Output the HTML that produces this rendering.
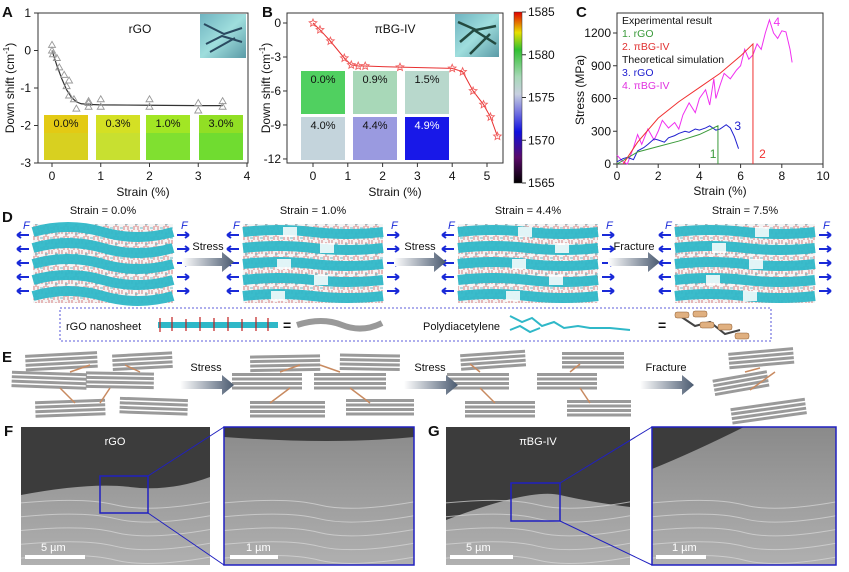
<!DOCTYPE html>
<html><head><meta charset="utf-8"><style>
html,body{margin:0;padding:0;background:#fff}
svg{display:block;font-family:"Liberation Sans",sans-serif}
</style></head><body>
<svg id="fig" width="849" height="572" viewBox="0 0 849 572" xmlns="http://www.w3.org/2000/svg">
<defs>
<linearGradient id="cbar" x1="0" y1="1" x2="0" y2="0">
<stop offset="0" stop-color="#000"/><stop offset="0.15" stop-color="#5a0a6a"/><stop offset="0.3" stop-color="#1010e0"/><stop offset="0.42" stop-color="#7a7ae0"/><stop offset="0.52" stop-color="#c8d0e0"/><stop offset="0.62" stop-color="#a8d8b8"/><stop offset="0.78" stop-color="#30c030"/><stop offset="0.88" stop-color="#e8e000"/><stop offset="1" stop-color="#e00000"/>
</linearGradient>
<linearGradient id="arr" x1="0" x2="1"><stop offset="0" stop-color="#fff"/><stop offset="1" stop-color="#4a5a70"/></linearGradient>
<linearGradient id="sem" x1="0" y1="0" x2="0" y2="1"><stop offset="0" stop-color="#8a8a8a"/><stop offset="1" stop-color="#b0b0b0"/></linearGradient>
<linearGradient id="ins" x1="0" y1="0" x2="1" y2="1"><stop offset="0" stop-color="#6fb3c0"/><stop offset="0.5" stop-color="#9fdedd"/><stop offset="1" stop-color="#5a9aa6"/></linearGradient>
<pattern id="md" width="10" height="10" patternUnits="userSpaceOnUse"><rect width="10" height="10" fill="#f4f4f4"/><path d="M2 0v4M6 2v5M9 0v4M4 6v4M8 6v4" stroke="#d06060" stroke-width="0.8"/><path d="M0 8h3M5 4h3" stroke="#40b0c0" stroke-width="0.8"/></pattern>
</defs>
<g id="pA"></g>
<g id="pB"></g>
<g id="pC"></g>
<g id="pD"></g>
<g id="pE"></g>
<g id="pFG"></g>
</svg>
<script>
// ---- Panel A data
const aStrain=[0,0,0.02,0.1,0.15,0.25,0.3,0.35,0.35,0.45,0.5,0.75,0.75,0.75,1,1,2,2,3,3,3.5,3.5];
const aShift=[0.15,0,-0.1,-0.2,-0.45,-0.65,-0.95,-0.8,-1.2,-1.3,-1.55,-1.35,-1.4,-1.5,-1.3,-1.5,-1.3,-1.5,-1.4,-1.6,-1.35,-1.5];
const aFitX=[0,0.1,0.2,0.3,0.4,0.5,0.6,0.8,1,2,3,3.5];
const aFitY=[0,-0.4,-0.75,-1.05,-1.25,-1.37,-1.42,-1.44,-1.45,-1.46,-1.47,-1.47];
const aXTicks=[0,1,2,3,4];
const aYTicks=[1,0,-1,-2,-3];
const aTiles=["0.0%","0.3%","1.0%","3.0%"];
// ---- Panel B data
const bStrain=[0,0.2,0.5,0.9,1.1,1.3,1.5,2.5,4,4.3,4.6,4.9,5.1,5.3];
const bShift=[0,-0.6,-1.6,-3.1,-3.7,-3.8,-3.8,-3.9,-4.0,-4.3,-6.0,-7.2,-8.3,-10.0];
const bXTicks=[0,1,2,3,4,5];
const bYTicks=[0,-3,-6,-9,-12];
const bTiles=["0.0%","0.9%","1.5%","4.0%","4.4%","4.9%"];
const cbTicks=[1585,1580,1575,1570,1565];
// ---- Panel C data
const cXTicks=[0,2,4,6,8,10];
const cYTicks=[0,300,600,900,1200];
const gX=[0,1,2,3,4,4.9,4.9];
const gY=[0,110,160,210,270,350,0];
const rX=[0.3,1,2,3,4,5,6,6.6,6.6];
const rY=[0,200,420,570,700,830,990,1100,0];
const blX=[0,0.3,0.5,0.8,1,1.3,1.5,1.8,2,2.3,2.5,2.8,3,3.3,3.5,3.8,4,4.3,4.5,4.8,5,5.3,5.5,5.7,5.9];
const blY=[20,50,60,40,120,150,180,230,220,200,240,260,280,300,290,320,310,330,350,310,320,360,330,250,140];
const mX=[0,0.3,0.5,0.8,1,1.2,1.5,1.8,2,2.2,2.5,2.8,3,3.2,3.5,3.8,4,4.3,4.5,4.7,4.8,5,5.2,5.5,5.8,6,6.2,6.4,6.6,6.8,7,7.2,7.4,7.6,7.8,8,8.2,8.4,8.5];
const mY=[80,20,0,150,270,180,320,220,300,400,330,380,320,450,560,470,600,680,540,780,600,720,830,780,860,900,1050,960,1000,1100,1050,1200,1320,1200,1150,1220,1210,1050,930];

const NS="http://www.w3.org/2000/svg";
function mk(parent,tag,attrs,text){const e=document.createElementNS(NS,tag);for(const k in attrs)e.setAttribute(k,attrs[k]);if(text!==undefined)e.textContent=text;parent.appendChild(e);return e;}
function txt(p,x,y,s,size,opt){opt=opt||{};const t=mk(p,'text',{x:x,y:y,'font-size':size,fill:opt.fill||'#111','text-anchor':opt.anchor||'start','font-weight':opt.bold?'bold':'normal'},s);return t;}

// ---------- Panel A
const A=document.getElementById('pA');
const ax=v=>52+v*48.75, ay=v=>13+(1-v)*37.5;
let t=txt(A,2,17,"A",15,{bold:true});
aTiles.forEach((s,i)=>{const x0=[44,96,146,199][i];const r=mk(A,'rect',{x:x0,y:115,width:44,height:45,fill:['#d8d020','#c8e030','#80e030','#70dc30'][i]});

mk(A,'rect',{x:x0,y:115,width:44,height:18,fill:['#e8c810','#d8e020','#b0e820','#a0e020'][i],opacity:0.7});
const l=txt(A,x0+22,127,s,11,{anchor:'middle'});});
let im=mk(A,'rect',{x:200,y:14,width:46,height:44,fill:'url(#ins)'});
mk(A,'path',{d:'M204 24l20 10l18 -6M206 44l16 -8l20 6M210 52l25 -14',stroke:'#2a4a60','stroke-width':2,fill:'none'});
let fr=mk(A,'rect',{x:38,y:13,width:210,height:150,fill:'none',stroke:'#333','stroke-width':1});
aXTicks.forEach(v=>{mk(A,'line',{x1:ax(v),x2:ax(v),y1:163,y2:167,stroke:'#333'});const l=txt(A,ax(v),180,String(v),12,{anchor:'middle'});});
aYTicks.forEach(v=>{mk(A,'line',{x1:34,x2:38,y1:ay(v),y2:ay(v),stroke:'#333'});const l=txt(A,31,ay(v)+4,String(v),12,{anchor:'end'});});
t=txt(A,143,196,"Strain (%)",12,{anchor:'middle'});
t=mk(A,'text',{x:0,y:0,'font-size':12,fill:'#111','text-anchor':'middle',transform:'translate(14,88) rotate(-90)'});t.innerHTML='Down shift (cm<tspan dy="-5" font-size="8">-1</tspan><tspan dy="5">)</tspan>';
t=txt(A,140,33,"rGO",12,{anchor:'middle'});
let fit=mk(A,'polyline',{points:aFitX.map((v,i)=>ax(v)+','+ay(aFitY[i])).join(' '),fill:'none',stroke:'#333','stroke-width':1.2});
aStrain.forEach((v,i)=>{const x=ax(v),y=ay(aShift[i]);const p=mk(A,'path',{d:`M${x} ${y-3.5}L${x+3.5} ${y+2.5}L${x-3.5} ${y+2.5}Z`,fill:'none',stroke:'#999','stroke-width':0.9});});

// ---------- Panel B
const B=document.getElementById('pB');
const bx=v=>313+v*34.8, by=v=>23-v*11.33;
t=txt(B,262,17,"B",15,{bold:true});
const bCol=['#50d060','#a8d8b8','#b8d8cc','#c4d4dc','#9a9ae0','#1818e8'];
bTiles.forEach((s,i)=>{const x0=[301,353,405][i%3],y0=i<3?71:117;const r=mk(B,'rect',{x:x0,y:y0,width:44,height:43,fill:bCol[i]});

const l=txt(B,x0+22,y0+12,s,11,{anchor:'middle',fill:i==5?'#fff':'#111'});});
im=mk(B,'rect',{x:455,y:14,width:44,height:43,fill:'url(#ins)'});
mk(B,'path',{d:'M458 22l18 8l20 -4M460 42l14 -12l22 14M470 54l20 -20',stroke:'#234a40','stroke-width':2.5,fill:'none'});
fr=mk(B,'rect',{x:287,y:13,width:216,height:150,fill:'none',stroke:'#333'});
bXTicks.forEach(v=>{mk(B,'line',{x1:bx(v),x2:bx(v),y1:163,y2:167,stroke:'#333'});const l=txt(B,bx(v),180,String(v),12,{anchor:'middle'});});
bYTicks.forEach(v=>{mk(B,'line',{x1:283,x2:287,y1:by(v),y2:by(v),stroke:'#333'});const l=txt(B,281,by(v)+4,String(v),12,{anchor:'end'});});
t=txt(B,395,196,"Strain (%)",12,{anchor:'middle'});
t=mk(B,'text',{x:0,y:0,'font-size':12,fill:'#111','text-anchor':'middle',transform:'translate(270,88) rotate(-90)'});t.innerHTML='Down shift (cm<tspan dy="-5" font-size="8">-1</tspan><tspan dy="5">)</tspan>';
t=txt(B,395,33,"πBG-IV",12,{anchor:'middle'});
let bl=mk(B,'polyline',{points:bStrain.map((v,i)=>bx(v)+','+by(bShift[i])).join(' '),fill:'none',stroke:'#e83030','stroke-width':1});
bStrain.forEach((v,i)=>{const x=bx(v),y=by(bShift[i]);let d='';for(let k=0;k<10;k++){const a=-Math.PI/2+k*Math.PI/5,r=k%2?1.8:4;d+=(k?'L':'M')+(x+r*Math.cos(a)).toFixed(1)+' '+(y+r*Math.sin(a)).toFixed(1);}
const p=mk(B,'path',{d:d+'Z',fill:'none',stroke:'#f06060','stroke-width':0.9});});
let cb=mk(B,'rect',{x:514,y:12,width:8,height:171,fill:'url(#cbar)',stroke:'#333','stroke-width':0.5});
cbTicks.forEach((v,i)=>{const y=12+i*42.75;mk(B,'line',{x1:522,x2:526,y1:y,y2:y,stroke:'#333'});const l=txt(B,528,y+4,String(v),12);});

// ---------- Panel C
const C=document.getElementById('pC');
const cx=v=>617+v*20.6, cy=v=>164-v*(131/1200);
t=txt(C,576,17,"C",15,{bold:true});
fr=mk(C,'rect',{x:617,y:13,width:206,height:151,fill:'none',stroke:'#333'});
cXTicks.forEach(v=>{mk(C,'line',{x1:cx(v),x2:cx(v),y1:164,y2:168,stroke:'#333'});const l=txt(C,cx(v),180,String(v),12,{anchor:'middle'});});
cYTicks.forEach(v=>{mk(C,'line',{x1:613,x2:617,y1:cy(v),y2:cy(v),stroke:'#333'});const l=txt(C,611,cy(v)+4,String(v),12,{anchor:'end'});});
t=txt(C,720,195,"Strain (%)",12,{anchor:'middle'});
t=mk(C,'text',{x:0,y:0,'font-size':12,fill:'#111','text-anchor':'middle',transform:'translate(584,90) rotate(-90)'},'Stress (MPa)');
const ser=[[mX,mY,'#f030f0','series-4-sim-pbg'],[blX,blY,'#2020d0','series-3-sim-rgo'],[gX,gY,'#3a9a3a','series-1-exp-rgo'],[rX,rY,'#f03030','series-2-exp-pbg']];
ser.forEach(s=>{const l=mk(C,'polyline',{points:s[0].map((v,i)=>cx(v)+','+cy(s[1][i])).join(' '),fill:'none',stroke:s[2],'stroke-width':1});});
[["1",cx(4.5),158,'#3a9a3a'],["2",cx(6.9),158,'#f03030'],["3",cx(5.7),130,'#2020d0'],["4",cx(7.6),26,'#f030f0']].forEach(a=>{const l=txt(C,a[1],a[2],a[0],12,{fill:a[3]});});
[["Experimental result",'#111',24],["1. rGO",'#3a9a3a',37],["2. πBG-IV",'#e03030',50],["Theoretical simulation",'#111',63],["3. rGO",'#2020d0',76],["4. πBG-IV",'#e030e0',89]].forEach(a=>{const l=txt(C,622,a[2],a[0],10.5,{fill:a[1]});});

// ---------- Panel D
const D=document.getElementById('pD');
t=txt(D,2,222,"D",15,{bold:true});
const dBoxes=[[33,"Strain = 0.0%"],[243,"Strain = 1.0%"],[458,"Strain = 4.4%"],[675,"Strain = 7.5%"]];
dBoxes.forEach((b,i)=>{const x0=b[0],w=140;const g=mk(D,'g',{});
mk(g,'rect',{x:x0,y:224,width:w,height:79,fill:'url(#md)'});
for(let k=0;k<5;k++){const y=232+k*16;const amp=i==0?5:2;mk(g,'path',{d:`M${x0} ${y} q${w/4} ${-amp*2} ${w/2} 0 t${w/2} 0`,stroke:'#2fb8c8','stroke-width':10,fill:'none',opacity:0.95});
if(i>0){mk(g,'rect',{x:x0+20+((k*37+i*20)%80),y:y-5,width:14,height:10,fill:'#fff',opacity:0.85});}}
const l=txt(D,x0+w/2,214,b[1],11,{anchor:'middle'});
for(let k=0;k<5;k++){const y=235+k*14;mk(D,'path',{d:`M${x0-4} ${y}h-12m0 0l4 -3m-4 3l4 3`,stroke:'#1a2ad8','stroke-width':2,fill:'none'});mk(D,'path',{d:`M${x0+w+4} ${y}h12m0 0l-4 -3m4 3l-4 3`,stroke:'#1a2ad8','stroke-width':2,fill:'none'});}
txt(D,x0-10,229,"F",11,{fill:'#1a2ad8'}).setAttribute('font-style','italic');txt(D,x0+w+8,229,"F",11,{fill:'#1a2ad8'}).setAttribute('font-style','italic');});
[[182,"Stress"],[394,"Stress"],[608,"Fracture"]].forEach(a=>{const g=mk(D,'g',{});
mk(g,'path',{d:`M${a[0]} 258h40v-6l12 10l-12 10v-6h-40z`,fill:'url(#arr)'});txt(g,a[0]+26,250,a[1],11,{anchor:'middle'});});
let lg=mk(D,'rect',{x:60,y:308,width:711,height:33,fill:'none',stroke:'#2a2ad0','stroke-dasharray':'2 2','stroke-width':0.8});
txt(D,66,330,"rGO nanosheet",11);
mk(D,'path',{d:'M158 325h120',stroke:'#2fb8c8','stroke-width':6});mk(D,'path',{d:'M160 318v14M172 317v14M186 319v12M200 317v14M214 318v13M228 317v14M242 319v12M256 317v14M268 318v13',stroke:'#c02020','stroke-width':1.2});
txt(D,283,330,"=",14,{bold:true});
mk(D,'path',{d:'M297 325q25 -8 45 0t40 -2',stroke:'#999','stroke-width':6,fill:'none'});
txt(D,423,330,"Polydiacetylene",11);
mk(D,'path',{d:'M510 316l12 6l10 -4l10 8l12 -4l10 6l14 -2l12 2l20 0l20 2',stroke:'#2fb8c8','stroke-width':2,fill:'none'});mk(D,'path',{d:'M510 330l10 -4l10 6l10 -4',stroke:'#2fb8c8','stroke-width':2,fill:'none'});
txt(D,658,330,"=",14,{bold:true});
mk(D,'path',{d:'M680 316l15 10l15 -4l15 12l15 -4',stroke:'#444','stroke-width':2,fill:'none'});
[[675,312],[693,311],[700,322],[718,324],[735,333]].forEach(p=>mk(D,'rect',{x:p[0],y:p[1],width:14,height:6,rx:2,fill:'#e0b080',stroke:'#8a5a30','stroke-width':0.5}));

// ---------- Panel E
const E=document.getElementById('pE');
t=txt(E,2,362,"E",15,{bold:true});
function stack(x,y,w,rot){const g=mk(E,'g',{transform:`rotate(${rot} ${x+w/2} ${y})`});for(let k=0;k<4;k++)mk(g,'rect',{x:x,y:y+k*4.5,width:w,height:3,fill:'#9a9a9a'});return g;}
const eStacks=[[[25,353,72,-3],[112,353,60,-3],[12,372,75,2],[86,372,68,1],[35,400,70,-2],[120,398,68,2]],
[[250,355,70,-1],[340,354,60,1],[232,373,70,0],[314,373,72,0],[250,401,75,0],[346,399,68,0]],
[[460,352,65,-4],[562,352,62,0],[447,373,62,0],[537,373,60,0],[465,401,70,0],[567,400,64,0]],
[[728,350,65,-5],[712,375,55,-10],[730,403,75,-8]]];
eStacks.forEach(set=>set.forEach(s=>stack(s[0],s[1],s[2],s[3])));
[[[70,372,90,365],[60,388,75,403],[110,388,100,403],[140,372,125,365]],[[280,372,300,365],[290,388,270,403],[350,388,370,403],[340,372,320,365]],[[480,372,470,364],[480,388,495,403],[580,388,590,403],[570,372,580,364]],[[745,372,760,368],[750,390,775,372]]].forEach(ls=>ls.forEach(l=>{const p=mk(E,'path',{d:`M${l[0]} ${l[1]}L${l[2]} ${l[3]}`,stroke:'#c88a60','stroke-width':1.5});}));
[[180,"Stress"],[404,"Stress"],[640,"Fracture"]].forEach(a=>{const g=mk(E,'g',{});
mk(g,'path',{d:`M${a[0]} 381h42v-6l12 10l-12 10v-6h-42z`,fill:'url(#arr)'});txt(g,a[0]+26,371,a[1],11,{anchor:'middle'});});

// ---------- Panels F/G
const FG=document.getElementById('pFG');
function sem(x,y,w,h,darkPath,name){const g=mk(FG,'g',{});
mk(g,'rect',{x:x,y:y,width:w,height:h,fill:'url(#sem)'});mk(g,'path',{d:darkPath,fill:'#3c3c3c'});
for(let k=1;k<6;k++)mk(g,'path',{d:`M${x} ${y+h*0.45+k*h*0.1} q${w/3} -6 ${w/2} 2 t${w/2} -3`,stroke:'#d8d8d8','stroke-width':1,fill:'none',opacity:0.7});return g;}
t=txt(FG,4,436,"F",15,{bold:true});
t=txt(FG,428,436,"G",15,{bold:true});
sem(21,427,189,138,'M21 427h189v50q-40 15 -80 10t-109 8z','sem-rgo');
sem(224,427,190,138,'M224 427h190v10q-80 8 -190 0z','sem-rgo-zoom');
sem(446,427,184,138,'M446 427h184v80q-40 -5 -70 -12t-114 25z','sem-pbg');
sem(652,427,184,138,'M652 427h92q-50 25 -92 42z','sem-pbg-zoom');
mk(FG,'rect',{x:224,y:427,width:190,height:138,fill:'none',stroke:'#2020c0','stroke-width':1.5});
mk(FG,'rect',{x:652,y:427,width:184,height:138,fill:'none',stroke:'#2020c0','stroke-width':1.5});
mk(FG,'rect',{x:100,y:476,width:48,height:37,fill:'none',stroke:'#2020c0','stroke-width':1.5});
mk(FG,'path',{d:'M148 476L224 427M148 513L224 565',stroke:'#2020c0','stroke-width':1});
mk(FG,'rect',{x:511,y:483,width:49,height:38,fill:'none',stroke:'#2020c0','stroke-width':1.5});
mk(FG,'path',{d:'M560 483L652 427M560 521L652 565',stroke:'#2020c0','stroke-width':1});
txt(FG,115,445,"rGO",11,{anchor:'middle',fill:'#fff'});
txt(FG,538,445,"πBG-IV",11,{anchor:'middle',fill:'#fff'});
[[25,555,60,"5 µm"],[230,555,48,"1 µm"],[450,555,63,"5 µm"],[656,555,50,"1 µm"]].forEach(s=>{const g=mk(FG,'g',{});mk(g,'rect',{x:s[0],y:s[1],width:s[2],height:4,fill:'#fff'});txt(g,s[0]+16,s[1]-4,s[3],11,{fill:'#fff'});});
</script>
</body></html>
